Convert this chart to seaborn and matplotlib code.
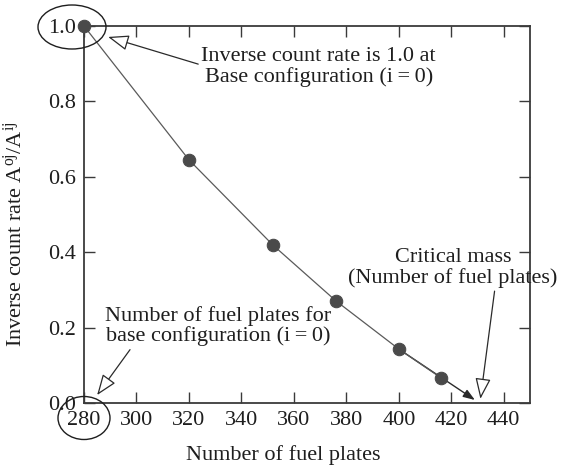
import matplotlib
matplotlib.use("Agg")
import matplotlib.pyplot as plt
from matplotlib.patches import Ellipse
import seaborn as sns
import pandas as pd

# Data
fuel_plates = [280, 320, 352, 376, 400, 416]
inverse_rate = [1.0, 0.645, 0.419, 0.271, 0.143, 0.067]
x_ticks = [280, 300, 320, 340, 360, 380, 400, 420, 440]
y_ticks = [0.0, 0.2, 0.4, 0.6, 0.8, 1.0]
critical_plates = 429
critical_rate = 0.008

sns.set_style("ticks")
plt.rcParams['font.family'] = ['Liberation Serif', 'DejaVu Serif']
plt.rcParams['mathtext.fontset'] = 'custom'
plt.rcParams['mathtext.rm'] = 'Liberation Serif'
plt.rcParams['mathtext.it'] = 'Liberation Serif:italic'

df = pd.DataFrame({"plates": fuel_plates, "rate": inverse_rate})

fig = plt.figure(figsize=(5.61, 4.70), dpi=100)
ax = fig.add_axes([84/561, 1-403/470, (530-84)/561, (403-26)/470])

sp_col = "#3a3a3a"
line_col = "#5a5a5a"
txt_col = "#1e1e1e"
fs = 16

sns.lineplot(data=df, x="plates", y="rate", ax=ax, color=line_col, lw=0.9,
             marker="o", markersize=9, markerfacecolor="#4a4a4a",
             markeredgecolor="#4a4a4a", clip_on=False, zorder=3)

# extrapolation arrow to critical mass
ax.annotate("", xy=(critical_plates, critical_rate), xytext=(fuel_plates[-2], inverse_rate[-2]),
            arrowprops=dict(arrowstyle="-|>,head_length=0.7,head_width=0.25",
                            color="#2a2a2a", lw=1.0, shrinkA=0, shrinkB=0), zorder=2)

ax.set_xlim(280, 450)
ax.set_ylim(0, 1.0)
ax.set_xticks(x_ticks)
ax.set_yticks(y_ticks)
ax.set_xticklabels([str(v) for v in x_ticks])
ax.set_yticklabels([f"{v:.1f}" for v in y_ticks])
ax.tick_params(direction="in", length=8, width=1.0, color=sp_col, labelsize=fs,
               labelcolor=txt_col, top=True, right=True, pad=6)
for s in ax.spines.values():
    s.set_color(sp_col)
    s.set_linewidth(1.3)

xl = ax.set_xlabel("Number of fuel plates", fontsize=fs, color=txt_col)
yl = ax.set_ylabel(r"Inverse count rate $\mathrm{A^{oj}/A^{ij}}$", fontsize=fs, color=txt_col)
xl.set_va("center")
xl.set_ha("center")
yl.set_va("center")
yl.set_ha("center")
ax.xaxis.set_label_coords(0.447, -0.138)
ax.yaxis.set_label_coords(-0.155, 0.448)

hollow = dict(arrowstyle="-|>,head_length=0.8,head_width=0.3", color="#2a2a2a",
              fc="white", lw=0.9, shrinkA=0, shrinkB=0)

ax.annotate("Inverse count rate is 1.0 at\nBase configuration (i\u2009=\u20090)",
            xy=(289.2, 0.971), xytext=(369.5, 0.891), ha="center", va="center",
            fontsize=fs, color=txt_col, linespacing=1.05,
            arrowprops=dict(hollow, relpos=(0.0, 0.55)), annotation_clip=False)

ax.annotate("Number of fuel plates for\nbase configuration (i\u2009=\u20090)",
            xy=(285.0, 0.021), xytext=(331.2, 0.204), ha="center", va="center",
            fontsize=fs, color=txt_col, linespacing=1.05,
            arrowprops=dict(hollow, relpos=(0.12, 0.0)), annotation_clip=False)

ax.annotate("Critical mass\n(Number of fuel plates)",
            xy=(431.1, 0.011), xytext=(420.7, 0.358), ha="center", va="center",
            fontsize=fs, color=txt_col, linespacing=1.05,
            arrowprops=dict(hollow, relpos=(0.7, 0.0)), annotation_clip=False)

for cx, cy, w, h in [(72, 27, 68, 44), (84, 418, 52, 43)]:
    fig.patches.append(Ellipse((cx/561, 1-cy/470), w/561, h/470, transform=fig.transFigure,
                               fill=False, ec="#1e1e1e", lw=1.0))

fig.savefig("out.png", dpi=100)
